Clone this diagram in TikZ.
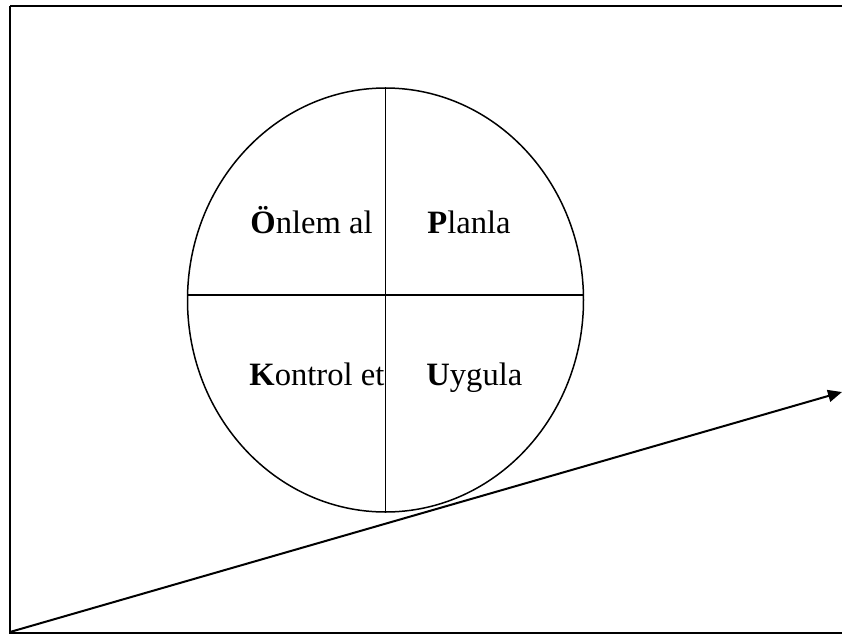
\documentclass[tikz,border=0pt]{standalone}
\usepackage{fontspec}
\setmainfont{Liberation Serif}
\usetikzlibrary{arrows.meta,shapes.geometric,calc}
\tikzset{
  frm/.style={draw=black, line width=1pt},
  oval/.style={ellipse, draw=black, line width=0.75pt, inner sep=0pt,
               minimum width=198pt, minimum height=212pt},
  sep/.style={draw=black, line width=0.75pt},
  ar/.style={-{Triangle[length=7pt, width=6pt]}, line width=1pt},
  lbl/.style={anchor=base west, inner sep=0pt, font=\fontsize{16.3}{19}\selectfont},
}
\begin{document}
\begin{tikzpicture}[x=0.5pt, y=-0.5pt]
\useasboundingbox (0,0) rectangle (842,633);

% outer frame (its right side runs off the page)
\draw[frm] (10,6) -- (860,6);
\draw[frm] (10,6) -- (10,632.5) -- (860,632.5);

% the cycle
\node[oval] (cycle) at (385.5,300) {};
\coordinate (hl) at (187.5,295);
\coordinate (hr) at (583.3,295);
\draw[sep] (cycle.north) -- (cycle.south);
\draw[sep] (hl) -- (hr);

% quarters
\node[lbl] (onlem) at (250,233) {\textbf{Ö}nlem al};
\node[lbl] (planla) at (427,233) {\textbf{P}lanla};
\node[lbl] (kontrol) at (249,385) {\textbf{K}ontrol et};
\node[lbl] (uygula) at (426,385) {\textbf{U}ygula};

% rising arrow
\coordinate (base) at (10,632);
\coordinate (tip) at (842,392);
\draw[ar] (base) -- (tip);

\end{tikzpicture}
\end{document}
